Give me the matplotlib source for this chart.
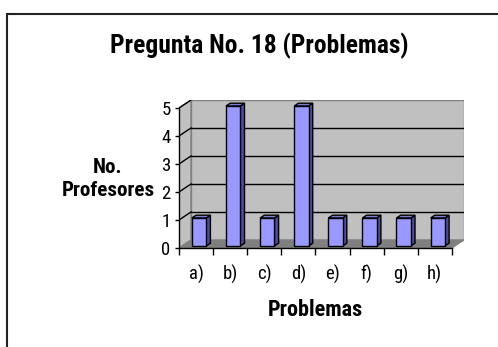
import matplotlib

matplotlib.use("Agg")
import matplotlib.pyplot as plt
from matplotlib.patches import Polygon, Rectangle

categories = ["a)", "b)", "c)", "d)", "e)", "f)", "g)", "h)"]
profesores = [1, 5, 1, 5, 1, 1, 1, 1]
y_ticks = [0, 1, 2, 3, 4, 5]

FONT = ["Roboto Condensed", "DejaVu Sans"]

W, H = 498, 347
fig = plt.figure(figsize=(W / 100, H / 100), dpi=100)
fig.patch.set_facecolor("white")

# pixel geometry of the 3-D box
x0, y0 = 179, 248          # front-left corner of floor
cat_w = 34.1               # px per category
unit_h = 28.0              # px per y unit
dx_px, dy_px = 12, 8       # wall depth
n = len(categories)
ymax = y_ticks[-1]
ox = dx_px / cat_w
oy = dy_px / unit_h

ax = fig.add_axes([x0 / W, (H - y0) / H,
                   (n * cat_w + dx_px) / W, (ymax * unit_h + dy_px) / H])
ax.set_xlim(0, n + ox)
ax.set_ylim(0, ymax + oy)
ax.patch.set_visible(False)

wall = "#C0C0C0"
floor = "#808080"
edge = "#808080"

# back wall, left wall, floor
ax.add_patch(Rectangle((ox, oy), n, ymax, facecolor=wall, edgecolor=edge, lw=1, zorder=1))
ax.add_patch(Polygon([(0, 0), (ox, oy), (ox, ymax + oy), (0, ymax)],
                     closed=True, facecolor=wall, edgecolor=edge, lw=1, zorder=1))
ax.add_patch(Polygon([(0, 0), (n, 0), (n + ox, oy), (ox, oy)],
                     closed=True, facecolor=floor, edgecolor=edge, lw=1, zorder=1))
for v in y_ticks[1:]:
    if v < ymax:
        ax.plot([ox, n + ox], [v + oy, v + oy], color="black", lw=1, zorder=2)
    ax.plot([0, ox], [v, v + oy], color="black", lw=1, zorder=2)

# bars: front face, side and top
face, side, top = "#9999FF", "#4C4C99", "#7B7BD9"
bw = 0.42
d0, d1 = 0.25, 0.6   # bar depth span as fraction of wall depth
xs = [i + 0.5 - bw / 2 + d0 * ox for i in range(n)]
ax.bar(xs, profesores, width=bw, bottom=d0 * oy, align="edge",
       color=face, edgecolor="black", lw=1, zorder=4)
bdx = (d1 - d0) * ox
bdy = (d1 - d0) * oy
for xl, v in zip(xs, profesores):
    yb = d0 * oy
    yt = yb + v
    xr = xl + bw
    ax.add_patch(Polygon([(xr, yb), (xr + bdx, yb + bdy), (xr + bdx, yt + bdy), (xr, yt)],
                         closed=True, facecolor=side, edgecolor="black", lw=1, zorder=3))
    ax.add_patch(Polygon([(xl, yt), (xr, yt), (xr + bdx, yt + bdy), (xl + bdx, yt + bdy)],
                         closed=True, facecolor=top, edgecolor="black", lw=1, zorder=3))

# axes lines and ticks
for s in ("top", "right"):
    ax.spines[s].set_visible(False)
ax.spines["left"].set_bounds(0, ymax)
ax.spines["bottom"].set_bounds(0, n)
for s in ("left", "bottom"):
    ax.spines[s].set_linewidth(1)
    ax.spines[s].set_zorder(5)

ax.set_yticks(y_ticks)
ax.set_yticklabels([str(t) for t in y_ticks], family=FONT, fontsize=13.5)
ax.tick_params(axis="y", direction="out", length=3, width=1, pad=3)

ax.set_xticks(range(n + 1))
ax.set_xticklabels([])
ax.set_xticks([i + 0.5 for i in range(n)], minor=True)
ax.set_xticklabels(categories, minor=True, family=FONT, fontsize=13.5)
ax.tick_params(axis="x", which="major", direction="out", length=5, width=1)
ax.tick_params(axis="x", which="minor", length=0, pad=12)

fig.text(259 / W, 1 - 46 / H, "Pregunta No. 18 (Problemas)", family=FONT,
         fontsize=18.4, fontweight="bold", ha="center", va="center")
fig.text(108 / W, 1 - 179 / H, "No.\nProfesores", family=FONT,
         fontsize=15.2, fontweight="bold", ha="center", va="center", linespacing=1.25)
fig.text(315 / W, 1 - 310 / H, "Problemas", family=FONT,
         fontsize=16, fontweight="bold", ha="center", va="center")

# outer chart frame
fig.patches.append(Rectangle((7 / W, -0.2), 1.0, 1 - 14 / H + 0.2, transform=fig.transFigure,
                             facecolor="none", edgecolor="#222222", lw=1.5, zorder=0))

fig.savefig("out.png", dpi=100)
